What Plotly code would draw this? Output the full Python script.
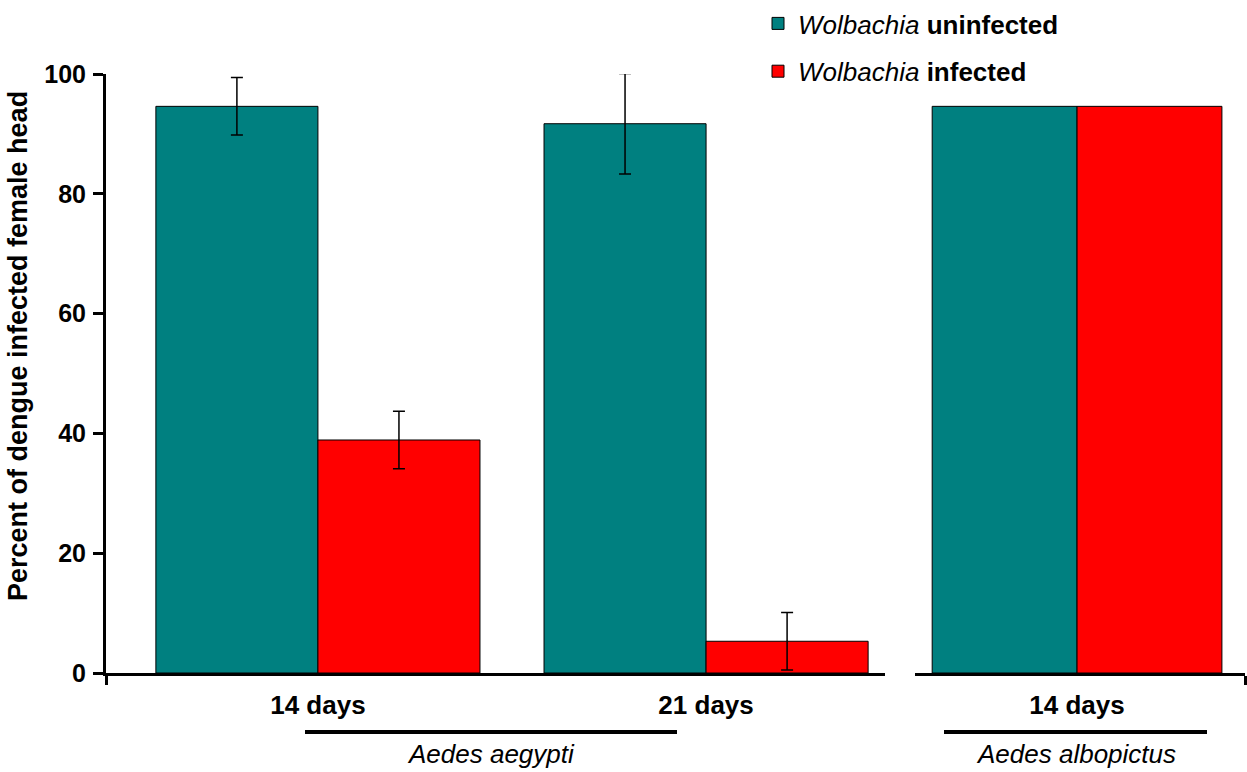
import plotly.graph_objects as go

# ---- data ----
categories_aegypti = ["14 days", "21 days"]
uninfected_aegypti = [94.6, 91.7]
uninfected_aegypti_err = [4.8, 8.4]
infected_aegypti = [38.9, 5.3]
infected_aegypti_err = [4.8, 4.8]

categories_albopictus = ["14 days"]
uninfected_albopictus = [94.6]
infected_albopictus = [94.6]

species_labels = ["Aedes aegypti", "Aedes albopictus"]
series_names = ["<i>Wolbachia</i> <b>uninfected</b>", "<i>Wolbachia</i> <b>infected</b>"]
y_title = "Percent of dengue infected female head"
y_ticks = [0, 20, 40, 60, 80, 100]

TEAL = "#008080"
RED = "#FF0000"
FONT = "Liberation Sans, Arial, sans-serif"

pos_a = list(range(len(categories_aegypti)))
pos_b = list(range(len(categories_albopictus)))

fig = go.Figure()
err_style = dict(type="data", visible=True, color="black", thickness=1.5, width=6)

fig.add_trace(go.Bar(x=pos_a, y=uninfected_aegypti, name=series_names[0],
                     marker=dict(color=TEAL, line=dict(color="black", width=1)),
                     error_y=dict(array=uninfected_aegypti_err, **err_style),
                     legendgroup="u", xaxis="x", yaxis="y"))
fig.add_trace(go.Bar(x=pos_a, y=infected_aegypti, name=series_names[1],
                     marker=dict(color=RED, line=dict(color="black", width=1)),
                     error_y=dict(array=infected_aegypti_err, **err_style),
                     legendgroup="i", xaxis="x", yaxis="y"))
fig.add_trace(go.Bar(x=pos_b, y=uninfected_albopictus, name=series_names[0],
                     marker=dict(color=TEAL, line=dict(color="black", width=1)),
                     showlegend=False, legendgroup="u", xaxis="x2", yaxis="y2"))
fig.add_trace(go.Bar(x=pos_b, y=infected_albopictus, name=series_names[1],
                     marker=dict(color=RED, line=dict(color="black", width=1)),
                     showlegend=False, legendgroup="i", xaxis="x2", yaxis="y2"))

W, H = 1247, 772
ml, mr, mt, mb = 106, 2, 74, 99
pw = W - ml - mr
ph = H - mt - mb

def px2x(p):
    return (p - ml) / pw

def px2y(p):
    return (H - mb - p) / ph

left_range = [-0.546, 1.461]
right_range = [-0.467, 0.484]

tickfont = dict(family=FONT, size=25, color="black")
xtickfont = dict(family=FONT, size=26, color="black")

fig.update_layout(
    width=W, height=H,
    margin=dict(l=ml, r=mr, t=mt, b=mb, autoexpand=False),
    paper_bgcolor="white", plot_bgcolor="white",
    barmode="group", bargap=0.165, bargroupgap=0,
    font=dict(family=FONT, color="black"),
    xaxis=dict(domain=[0, px2x(885)], range=left_range, showgrid=False, zeroline=False,
               showline=True, linecolor="black", linewidth=3,
               tickvals=pos_a, ticktext=["<b>%s</b>" % c for c in categories_aegypti],
               ticks="", tickfont=xtickfont, ticklabelstandoff=7,
               minor=dict(ticks="outside", ticklen=9, tickwidth=3, tickcolor="black",
                          tick0=left_range[0], dtick=10, showgrid=False)),
    xaxis2=dict(domain=[px2x(915), 1], range=right_range, showgrid=False, zeroline=False,
                showline=True, linecolor="black", linewidth=3,
                tickvals=pos_b, ticktext=["<b>%s</b>" % c for c in categories_albopictus],
                ticks="", tickfont=xtickfont, ticklabelstandoff=7, anchor="y2",
                minor=dict(ticks="outside", ticklen=9, tickwidth=3, tickcolor="black",
                           tick0=right_range[1], dtick=10, showgrid=False)),
    yaxis=dict(range=[0, 100], tickvals=y_ticks, ticktext=["<b>%d</b>" % v for v in y_ticks],
               showgrid=False, zeroline=False, showline=True, linecolor="black", linewidth=3,
               ticks="outside", ticklen=10, tickwidth=3, tickcolor="black", tickfont=tickfont,
               ticklabelstandoff=2),
    yaxis2=dict(range=[0, 100], anchor="x2", visible=False, matches="y"),
    legend=dict(xref="container", yref="container", x=750 / W, y=1 + 3 / H,
                xanchor="left", yanchor="top",
                font=dict(family=FONT, size=26, color="black"),
                bgcolor="rgba(0,0,0,0)", tracegroupgap=11, traceorder="grouped",
                indentation=8),
    showlegend=True,
)

# y-axis title
fig.add_annotation(xref="paper", yref="paper", x=px2x(18), y=px2y(346),
                   text="<b>%s</b>" % y_title, textangle=-90, showarrow=False,
                   font=dict(family=FONT, size=27, color="black"),
                   xanchor="center", yanchor="middle")

# species underlines and labels
for (x0, x1), label in zip([(305, 677), (944, 1207)], species_labels):
    fig.add_shape(type="line", xref="paper", yref="paper",
                  x0=px2x(x0), x1=px2x(x1), y0=px2y(732), y1=px2y(732),
                  line=dict(color="black", width=4))
    fig.add_annotation(xref="paper", yref="paper", x=px2x((x0 + x1) / 2), y=px2y(754),
                       text="<i>%s</i>" % label, showarrow=False,
                       font=dict(family=FONT, size=26, color="black"),
                       xanchor="center", yanchor="middle")

fig.write_html("out.html")
